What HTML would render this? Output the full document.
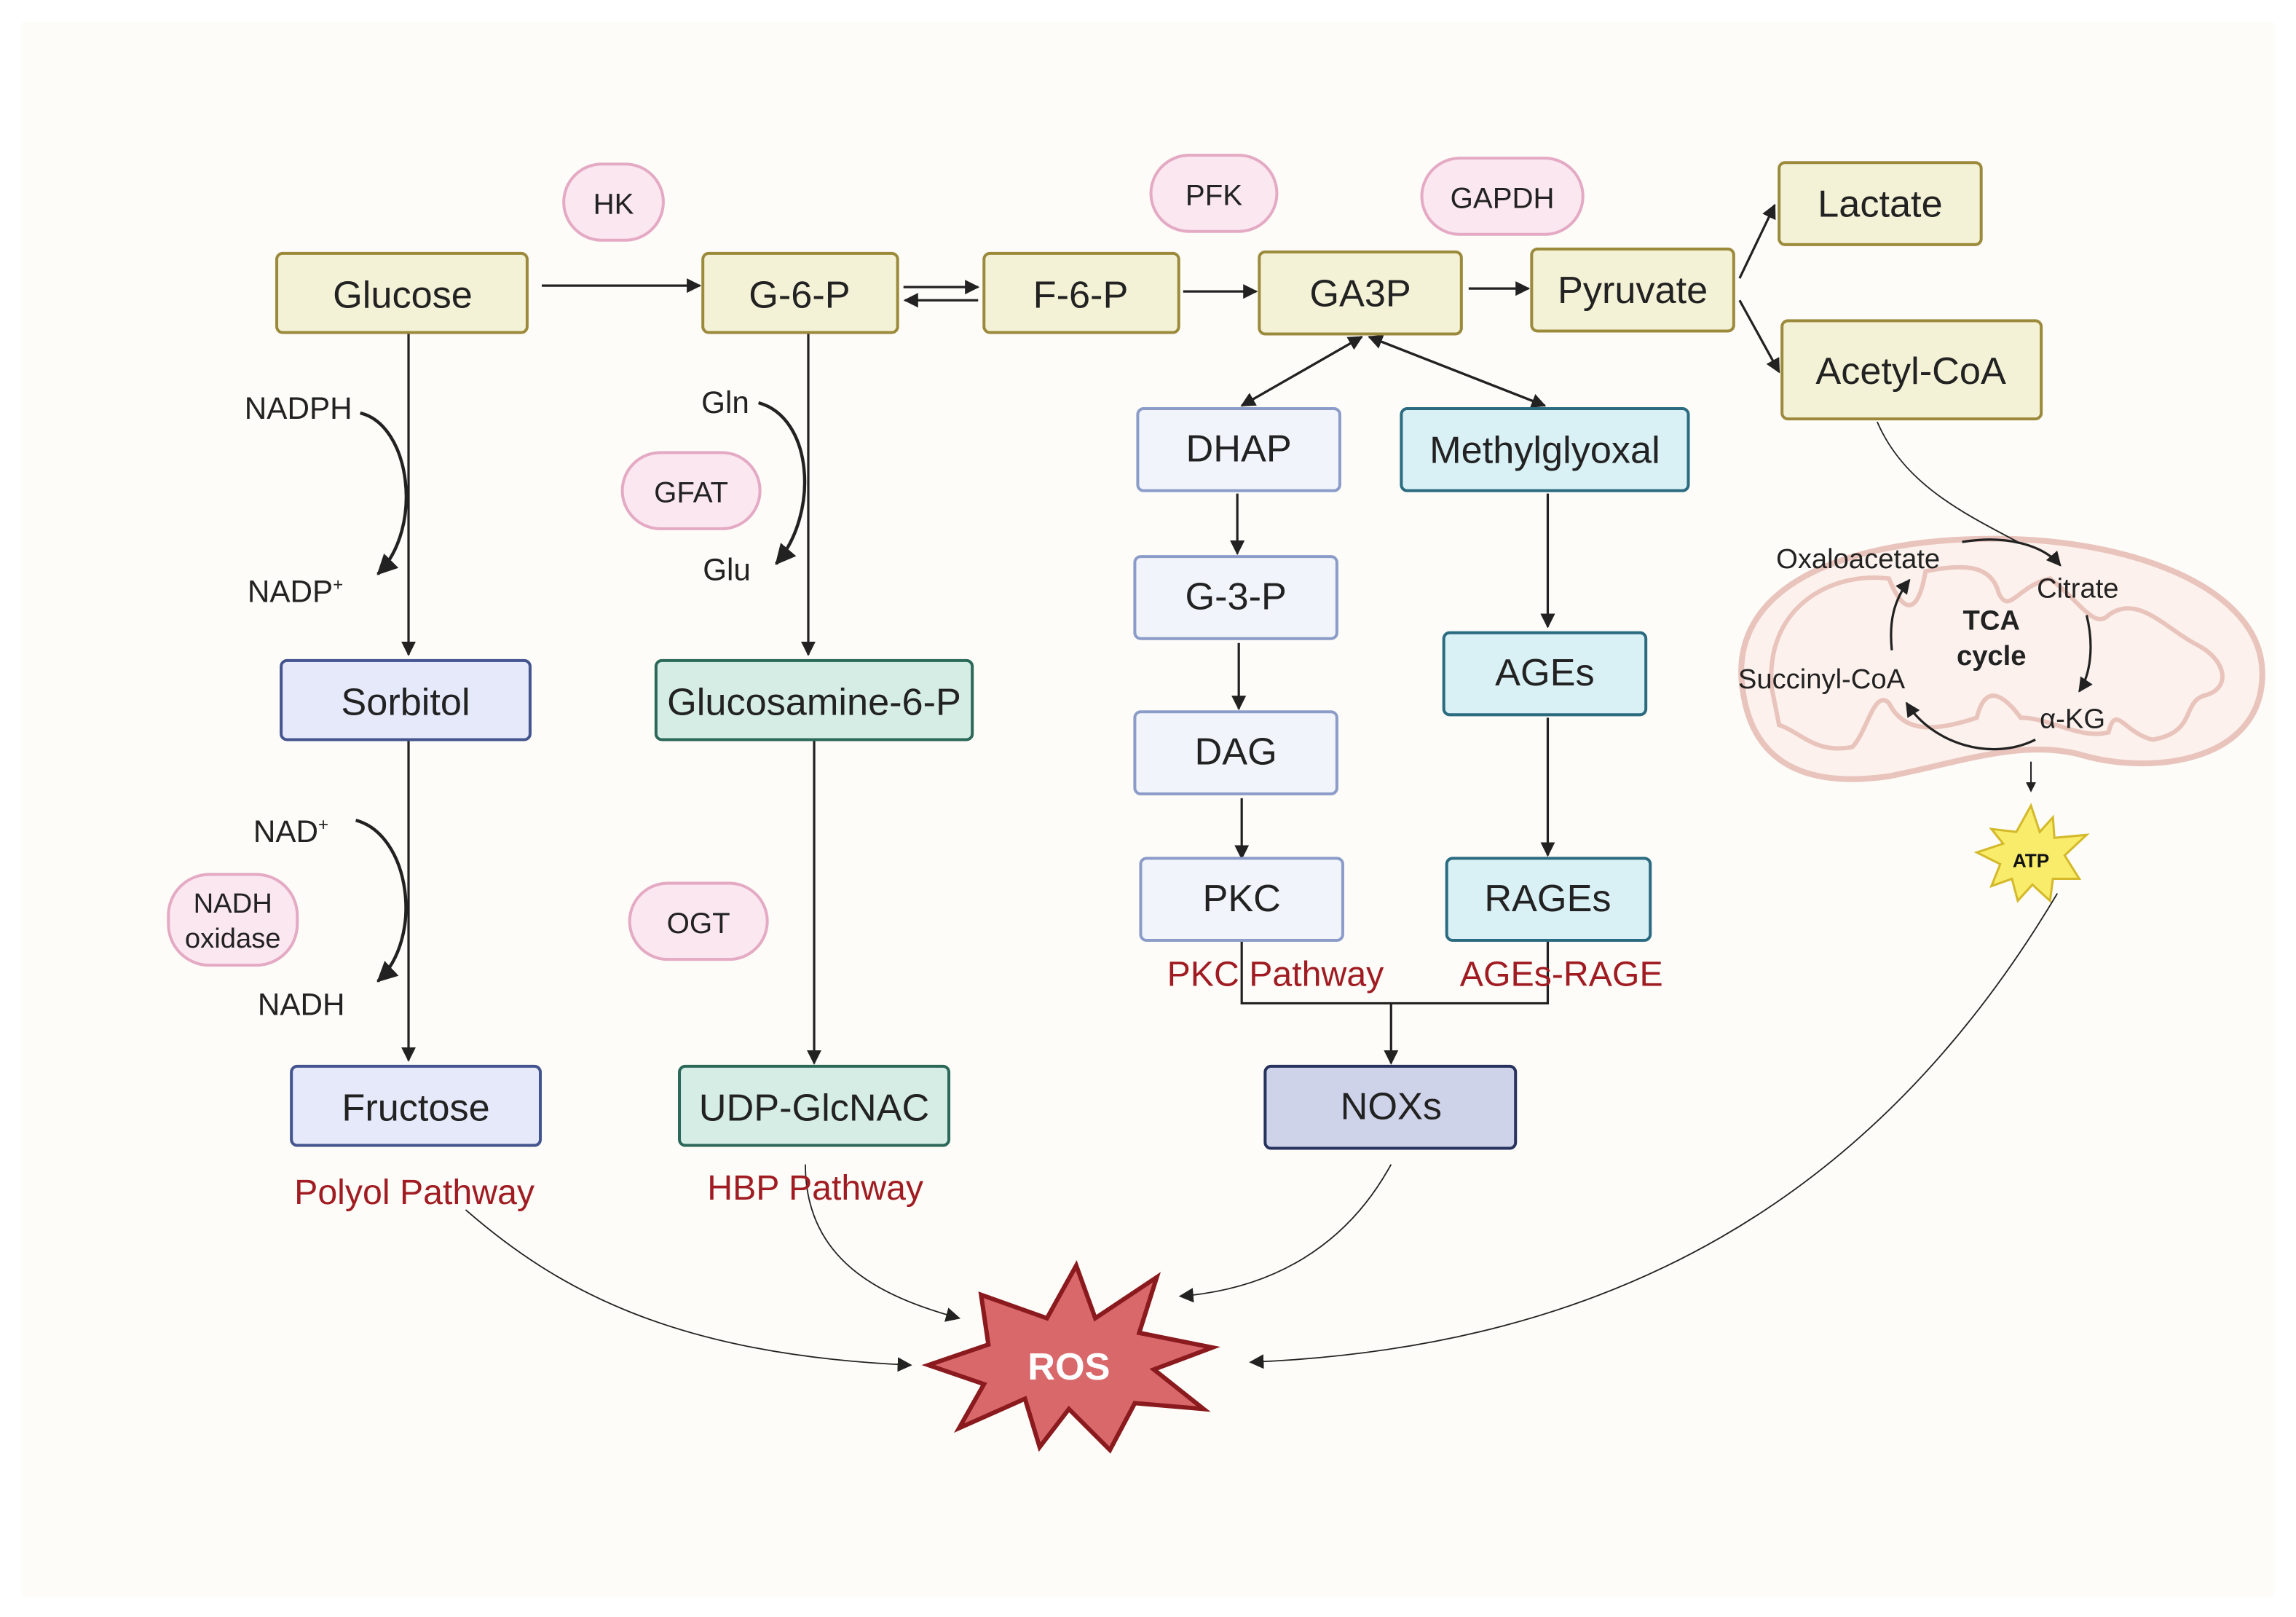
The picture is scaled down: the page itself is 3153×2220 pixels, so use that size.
<!DOCTYPE html>
<html><head><meta charset="utf-8"><style>
html,body{margin:0;padding:0;background:#fff;}
svg{display:block;}
text{font-family:"Liberation Sans",sans-serif;}
</style></head><body>
<svg width="3153" height="2220" viewBox="0 0 1568 1104" preserveAspectRatio="none" xmlns="http://www.w3.org/2000/svg">
<defs>
<marker id="a" markerWidth="10" markerHeight="10" refX="9" refY="5" orient="auto" markerUnits="userSpaceOnUse"><path d="M0,0 L10,5 L0,10 z" fill="#222"/></marker>
<marker id="b" markerWidth="14" markerHeight="14" refX="13" refY="7" orient="auto" markerUnits="userSpaceOnUse"><path d="M0,0 L14,7 L0,14 z" fill="#222"/></marker>
<marker id="s" markerWidth="7" markerHeight="7" refX="6" refY="3.5" orient="auto" markerUnits="userSpaceOnUse"><path d="M0,0 L7,3.5 L0,7 z" fill="#222"/></marker>
</defs>
<rect width="1568" height="1104" fill="#fff"/>
<rect x="15" y="15" width="1538" height="1075" fill="#fdfcf8"/>

<!-- Mitochondrion -->
<g fill="none" stroke="#e9c4bc">
<path d="M1190,470 C1180,400 1260,370 1350,368 C1450,365 1545,400 1545,460 C1545,520 1470,530 1420,515 C1380,505 1340,520 1290,530 C1220,540 1195,510 1190,470 Z" stroke-width="4" fill="#fcf1ec"/>
<path d="M1210,470 C1205,415 1250,390 1290,395 C1300,420 1310,420 1315,390 C1340,385 1360,385 1365,405 C1372,420 1378,400 1400,395 C1420,410 1430,430 1440,420 C1460,405 1480,430 1500,440 C1520,450 1525,470 1505,475 C1490,480 1500,500 1470,505 C1450,500 1445,480 1440,500 C1420,505 1400,490 1380,490 C1365,470 1355,470 1350,490 C1320,500 1300,500 1290,480 C1280,470 1275,500 1265,510 C1240,515 1230,500 1215,495 Z" stroke-width="3"/>
</g>

<!-- connectors -->
<g stroke="#222" stroke-width="1.6" fill="none">
<path d="M370,195 H478" marker-end="url(#a)"/>
<path d="M617,196 H668" marker-end="url(#a)"/>
<path d="M668,205 H618" marker-end="url(#a)"/>
<path d="M808,199 H858" marker-end="url(#a)"/>
<path d="M1003,197 H1044" marker-end="url(#a)"/>
<path d="M1188,190 L1212,140" marker-end="url(#a)"/>
<path d="M1188,205 L1215,254" marker-end="url(#a)"/>
<path d="M279,228 V447" marker-end="url(#a)"/>
<path d="M279,506 V724" marker-end="url(#a)"/>
<path d="M552,228 V447" marker-end="url(#a)"/>
<path d="M556,506 V726" marker-end="url(#a)"/>
<path d="M930,230 L848,277" marker-end="url(#a)"/>
<path d="M848,277 L930,230" marker-end="url(#a)"/>
<path d="M935,230 L1055,277" marker-end="url(#a)"/>
<path d="M1055,277 L935,230" marker-end="url(#a)"/>
<path d="M845,337 V378" marker-end="url(#a)"/>
<path d="M846,439 V484" marker-end="url(#a)"/>
<path d="M848,545 V586" marker-end="url(#a)"/>
<path d="M1057,337 V428" marker-end="url(#a)"/>
<path d="M1057,490 V584" marker-end="url(#a)"/>
<path d="M848,643 V685 H1057 V643"/>
<path d="M950,685 V726" marker-end="url(#a)"/>
<path d="M1387,520 V540" marker-end="url(#s)" stroke-width="1"/>
<path d="M1340,370 C1370,365 1395,372 1407,386" marker-end="url(#a)"/>
<path d="M1425,420 C1430,440 1428,460 1420,472" marker-end="url(#a)"/>
<path d="M1390,505 C1360,520 1320,508 1302,480" marker-end="url(#a)"/>
<path d="M1292,444 C1290,425 1293,410 1304,396" marker-end="url(#a)"/>
</g>
<g stroke="#222" stroke-width="2.2" fill="none">
<path d="M246,282 C280,290 290,360 258,392" marker-end="url(#b)"/>
<path d="M243,560 C280,570 290,640 258,670" marker-end="url(#b)"/>
<path d="M518,275 C555,285 560,350 530,385" marker-end="url(#b)"/>
</g>
<g stroke="#222" stroke-width="0.9" fill="none">
<path d="M1282,288 C1300,330 1340,350 1378,370"/>
<path d="M318,826 C380,880 460,925 622,932" marker-end="url(#a)"/>
<path d="M550,795 C550,860 600,885 655,900" marker-end="url(#a)"/>
<path d="M950,795 C920,850 870,880 806,885" marker-end="url(#a)"/>
<path d="M1405,610 C1280,820 1100,920 854,930" marker-end="url(#a)"/>
</g>

<!-- enzymes -->
<g fill="#fbe7ef" stroke="#e4aac4" stroke-width="2">
<rect x="385" y="112" width="68" height="52" rx="26"/>
<rect x="425" y="309" width="94" height="52" rx="26"/>
<rect x="115" y="597" width="88" height="62" rx="28"/>
<rect x="430" y="603" width="94" height="52" rx="26"/>
<rect x="786" y="106" width="86" height="52" rx="26"/>
<rect x="971" y="108" width="110" height="52" rx="26"/>
</g>
<g font-size="20" fill="#222" text-anchor="middle">
<text x="419" y="146">HK</text><text x="472" y="343">GFAT</text>
<text x="159" y="623" font-size="19">NADH</text><text x="159" y="647" font-size="19">oxidase</text>
<text x="477" y="637">OGT</text><text x="829" y="140">PFK</text><text x="1026" y="142">GAPDH</text>
</g>

<!-- nodes -->
<g stroke-width="2">
<g fill="#f4f2d6" stroke="#9c8a3c">
<rect x="189" y="173" width="171" height="54" rx="4"/>
<rect x="480" y="173" width="133" height="54" rx="4"/>
<rect x="672" y="173" width="133" height="54" rx="4"/>
<rect x="860" y="172" width="138" height="56" rx="4"/>
<rect x="1046" y="170" width="138" height="56" rx="4"/>
<rect x="1215" y="111" width="138" height="56" rx="4"/>
<rect x="1217" y="219" width="177" height="67" rx="4"/>
</g>
<g fill="#e5e9fa" stroke="#44548f">
<rect x="192" y="451" width="170" height="54" rx="4"/>
<rect x="199" y="728" width="170" height="54" rx="4"/>
</g>
<g fill="#d6ede6" stroke="#2b6858">
<rect x="448" y="451" width="216" height="54" rx="4"/>
<rect x="464" y="728" width="184" height="54" rx="4"/>
</g>
<g fill="#f1f5fb" stroke="#8c9cc8">
<rect x="777" y="279" width="138" height="56" rx="4"/>
<rect x="775" y="380" width="138" height="56" rx="4"/>
<rect x="775" y="486" width="138" height="56" rx="4"/>
<rect x="779" y="586" width="138" height="56" rx="4"/>
</g>
<g fill="#d9f0f4" stroke="#2a6b80">
<rect x="957" y="279" width="196" height="56" rx="4"/>
<rect x="986" y="432" width="138" height="56" rx="4"/>
<rect x="988" y="586" width="139" height="56" rx="4"/>
</g>
<rect x="864" y="728" width="171" height="56" rx="4" fill="#cfd3e9" stroke="#27325e"/>
</g>
<g font-size="26" fill="#222" text-anchor="middle">
<text x="275" y="210">Glucose</text><text x="546" y="210">G-6-P</text><text x="738" y="210">F-6-P</text>
<text x="929" y="209">GA3P</text><text x="1115" y="207">Pyruvate</text><text x="1284" y="148">Lactate</text>
<text x="1305" y="262">Acetyl-CoA</text>
<text x="277" y="488">Sorbitol</text><text x="284" y="765">Fructose</text>
<text x="556" y="488">Glucosamine-6-P</text><text x="556" y="765">UDP-GlcNAC</text>
<text x="846" y="315">DHAP</text><text x="844" y="416">G-3-P</text><text x="844" y="522">DAG</text><text x="848" y="622">PKC</text>
<text x="1055" y="316">Methylglyoxal</text><text x="1055" y="468">AGEs</text><text x="1057" y="622">RAGEs</text>
<text x="950" y="764">NOXs</text>
</g>
<g font-size="21" fill="#222">
<text x="167" y="286">NADPH</text><text x="169" y="411">NADP<tspan font-size="12" dy="-8">+</tspan></text>
<text x="173" y="575">NAD<tspan font-size="12" dy="-8">+</tspan></text><text x="176" y="693">NADH</text>
<text x="479" y="282">Gln</text><text x="480" y="396">Glu</text>
</g>
<g font-size="24" fill="#a01c22">
<text x="201" y="822">Polyol Pathway</text><text x="483" y="819">HBP Pathway</text>
<text x="797" y="673">PKC Pathway</text><text x="997" y="673">AGEs-RAGE</text>
</g>
<g font-size="19" fill="#222">
<text x="1213" y="388">Oxaloacetate</text><text x="1391" y="408">Citrate</text>
<text x="1187" y="470">Succinyl-CoA</text><text x="1393" y="497">α-KG</text>
<text x="1360" y="430" text-anchor="middle" font-weight="bold">TCA</text>
<text x="1360" y="454" text-anchor="middle" font-weight="bold">cycle</text>
</g>

<!-- ATP star -->
<polygon points="1387,550 1393,568 1402,558 1403,572 1425,570 1410,584 1420,600 1402,600 1400,615 1388,604 1378,615 1374,600 1360,605 1366,590 1350,582 1368,576 1360,566 1377,568" fill="#f8ec6a" stroke="#d4b92a" stroke-width="1.5"/>
<text x="1387" y="592" font-size="13" font-weight="bold" text-anchor="middle" fill="#111">ATP</text>

<!-- ROS star -->
<polygon points="735,864 748,900 790,872 778,910 828,920 788,935 822,962 775,958 758,990 730,962 710,988 700,955 655,975 672,945 634,932 675,918 670,884 715,900" fill="#d9686b" stroke="#8a1a1e" stroke-width="3"/>
<text x="730" y="942" font-size="26" font-weight="bold" fill="#fff" text-anchor="middle">ROS</text>
</svg>
</body></html>
